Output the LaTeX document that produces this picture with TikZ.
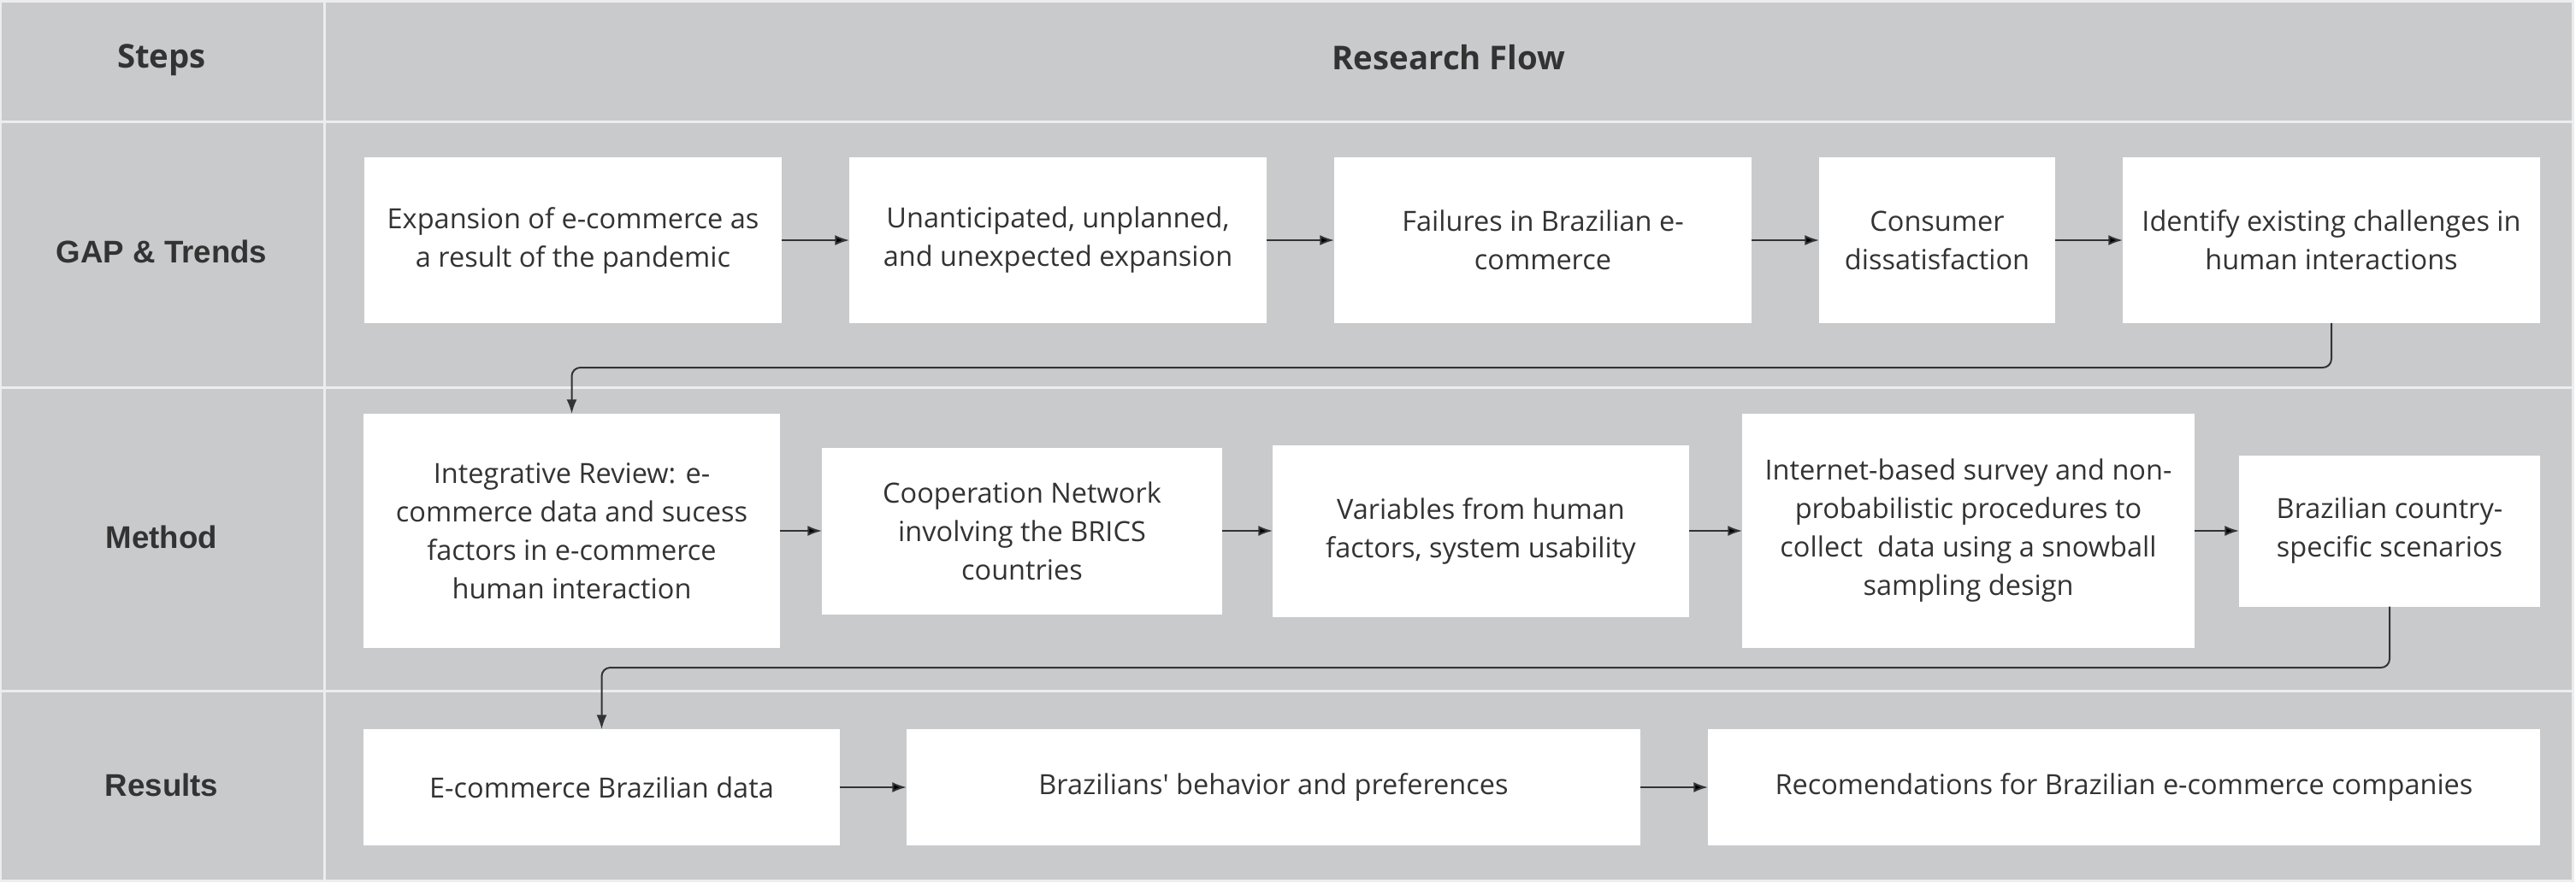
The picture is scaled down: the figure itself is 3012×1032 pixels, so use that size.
\documentclass[tikz,border=0pt]{standalone}
\usepackage{fontspec}
\setmainfont{Open Sans}[Ligatures=TeXOff]
\newfontfamily\labelfont{Liberation Sans}
\usepackage{tikz}
\usetikzlibrary{positioning,arrows.meta}
\definecolor{cellgray}{HTML}{C9CACC}
\definecolor{rulegray}{HTML}{EDEDEE}
\definecolor{inkgray}{HTML}{333333}

\begin{document}
\begin{tikzpicture}[x=0.3pt,y=-0.3pt,node distance=23.7pt,
				box/.style={fill=white,inner sep=0pt,outer sep=0pt,align=center,text=inkgray,font=\fontsize{9.75}{13.5}\selectfont},
				head/.style={text=inkgray,font=\fontsize{11.5}{14}\selectfont\bfseries},
				steplabel/.style={text=inkgray,font=\labelfont\fontsize{11}{13}\selectfont\bfseries},
				flow/.style={-{Latex[length=5pt,width=3.6pt]},line width=0.6pt,draw=inkgray},
				rule/.style={draw=rulegray,line width=0.9pt}]
				\useasboundingbox (0,0) rectangle (3012,1032);
				\fill[white] (0,0) rectangle (3012,1032);
				\fill[cellgray] (1,1) rectangle (3008,1030);
				\draw[rule] (1,1) rectangle (3008,1030);
				\draw[rule] (379,1) -- (379,1030);
				\draw[rule] (1,142) -- (3008,142);
				\draw[rule] (1,453) -- (3008,453);
				\draw[rule] (1,808) -- (3008,808);
				\node[head] (steps) at (189,70) {Steps};
				\node[head] (flowtitle) at (1694,67) {Research Flow};
				\node[steplabel] (gap) at (189,294) {GAP \& Trends};
				\node[steplabel] (method) at (189,628) {Method};
				\node[steplabel] (results) at (189,918) {Results};
				\node[box,minimum width=146.4pt,minimum height=58.2pt] (expansion) at (670,281) {Expansion of e-commerce as\\a result of the pandemic};
				\node[box,minimum width=146.4pt,minimum height=58.2pt] (unanticipated) [right=of expansion] {Unanticipated, unplanned,\\and unexpected expansion};
				\node[box,minimum width=146.4pt,minimum height=58.2pt] (failures) [right=of unanticipated] {Failures in Brazilian e-\\commerce};
				\node[box,minimum width=82.8pt,minimum height=58.2pt] (dissatisfaction) [right=of failures] {Consumer\\dissatisfaction};
				\node[box,minimum width=146.4pt,minimum height=58.2pt] (challenges) [right=of dissatisfaction] {Identify existing challenges in\\human interactions};
				\node[box,minimum width=146.1pt,minimum height=82.2pt] (review) at (668.5,621) {Integrative Review: e-\\commerce data and sucess\\factors in e-commerce\\human interaction};
				\node[box,minimum width=140.4pt,minimum height=58.5pt] (network) [right=14.7pt of review] {Cooperation Network\\involving the BRICS\\countries};
				\node[box,minimum width=146.1pt,minimum height=60.3pt] (variables) [right=17.7pt of network] {Variables from human\\factors, system usability};
				\node[box,minimum width=158.7pt,minimum height=82.2pt] (survey) [right=18.6pt of variables] {Internet-based survey and non-\\probabilistic procedures to\\collect \ data using a snowball\\sampling design};
				\node[box,minimum width=105.6pt,minimum height=53.1pt] (scenarios) [right=15.6pt of survey] {Brazilian country-\\specific scenarios};
				\node[box,minimum width=167.1pt,minimum height=40.8pt] (brdata) at (703.5,921) {E-commerce Brazilian data};
				\node[box,minimum width=257.4pt,minimum height=40.8pt] (behavior) [right=23.4pt of brdata] {Brazilians' behavior and preferences};
				\node[box,minimum width=291.9pt,minimum height=40.8pt] (recommend) [right=of behavior] {Recomendations for Brazilian e-commerce companies};
				\coordinate (turnA) at (0,430);
				\coordinate (turnB) at (0,781);
				\path[flow]
				(expansion) edge (unanticipated)
				(unanticipated) edge (failures)
				(failures) edge (dissatisfaction)
				(dissatisfaction) edge (challenges)
				(review) edge (network)
				(network) edge (variables)
				(variables) edge (survey)
				(survey) edge (scenarios)
				(brdata) edge (behavior)
				(behavior) edge (recommend);
				\draw[flow,rounded corners=3pt] (challenges.south) -- (challenges.south |- turnA) -| (review.north);
				\draw[flow,rounded corners=3pt] (scenarios.south) -- (scenarios.south |- turnB) -| (brdata.north);
			\end{tikzpicture}
\end{document}
